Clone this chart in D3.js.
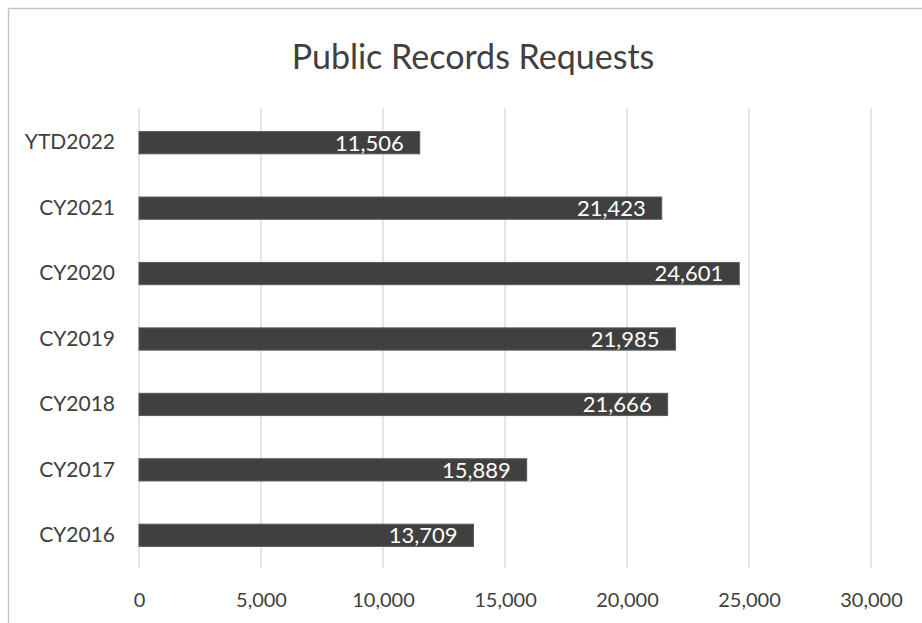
<!DOCTYPE html>
<html>
<head>
<meta charset="utf-8">
<script src="https://cdn.jsdelivr.net/npm/d3@7"></script>
<style>
  html, body { margin: 0; padding: 0; background: #fff; }
  svg { display: block; }
  text { font-family: Lato, "Open Sans", sans-serif; }
</style>
</head>
<body>
<svg id="chart" width="922" height="623"></svg>
<script>
// Yearly counts of public records requests
const categories = ["YTD2022", "CY2021", "CY2020", "CY2019", "CY2018", "CY2017", "CY2016"];
const requestCounts = [11506, 21423, 24601, 21985, 21666, 15889, 13709];
const xTicks = [0, 5000, 10000, 15000, 20000, 25000, 30000];
const chartTitle = "Public Records Requests";

const rows = categories.map((c, i) => ({ category: c, value: requestCounts[i] }));

const svg = d3.select("#chart");
const W = 922, H = 623;

// chart frame
svg.append("rect")
  .attr("x", 8.5).attr("y", 8.5)
  .attr("width", W).attr("height", H)
  .attr("fill", "#fff")
  .attr("stroke", "#c4c4c4")
  .attr("stroke-width", 1.5);

const x = d3.scaleLinear().domain([0, 30000]).range([139, 871]);
const y = d3.scaleBand().domain(categories).range([110, 568])
  .paddingInner(0.66).paddingOuter(0.33);

// title
svg.append("text")
  .attr("x", 473).attr("y", 69)
  .attr("text-anchor", "middle")
  .attr("font-size", 34)
  .attr("fill", "#404040")
  .text(chartTitle);

// vertical gridlines
svg.append("g")
  .selectAll("line")
  .data(xTicks)
  .join("line")
  .attr("x1", d => x(d)).attr("x2", d => x(d))
  .attr("y1", 108).attr("y2", 568)
  .attr("stroke", "#d9d9d9")
  .attr("stroke-width", 1.3);

// x axis tick labels
const fmt = d3.format(",");
const xAxis = d3.axisBottom(x).tickValues(xTicks).tickFormat(fmt).tickSize(0).tickPadding(0);
const gx = svg.append("g").attr("transform", "translate(0,593)").call(xAxis);
gx.select(".domain").remove();
gx.selectAll("text")
  .attr("font-family", "Lato, 'Open Sans', sans-serif")
  .attr("font-size", 20)
  .attr("fill", "#404040")
  .attr("dy", "0.35em")
  .attr("y", 7);

// category labels
const yAxis = d3.axisLeft(y).tickSize(0).tickPadding(0);
const gy = svg.append("g").attr("transform", "translate(115,0)").call(yAxis);
gy.select(".domain").remove();
gy.selectAll("text")
  .attr("font-family", "Lato, 'Open Sans', sans-serif")
  .attr("font-size", 21)
  .attr("fill", "#404040")
  .attr("x", 0);

// bars
svg.append("g")
  .selectAll("rect")
  .data(rows)
  .join("rect")
  .attr("x", x(0))
  .attr("y", d => y(d.category))
  .attr("width", d => x(d.value) - x(0))
  .attr("height", y.bandwidth())
  .attr("fill", "#404040")
  .attr("stroke", "#5a5a5a")
  .attr("stroke-width", 1);

// value labels inside bar ends
svg.append("g")
  .selectAll("text")
  .data(rows)
  .join("text")
  .attr("x", d => x(d.value) - 16)
  .attr("y", d => y(d.category) + y.bandwidth() / 2)
  .attr("dy", "0.36em")
  .attr("text-anchor", "end")
  .attr("font-size", 22)
  .attr("fill", "#ffffff")
  .text(d => fmt(d.value));
</script>
</body>
</html>
